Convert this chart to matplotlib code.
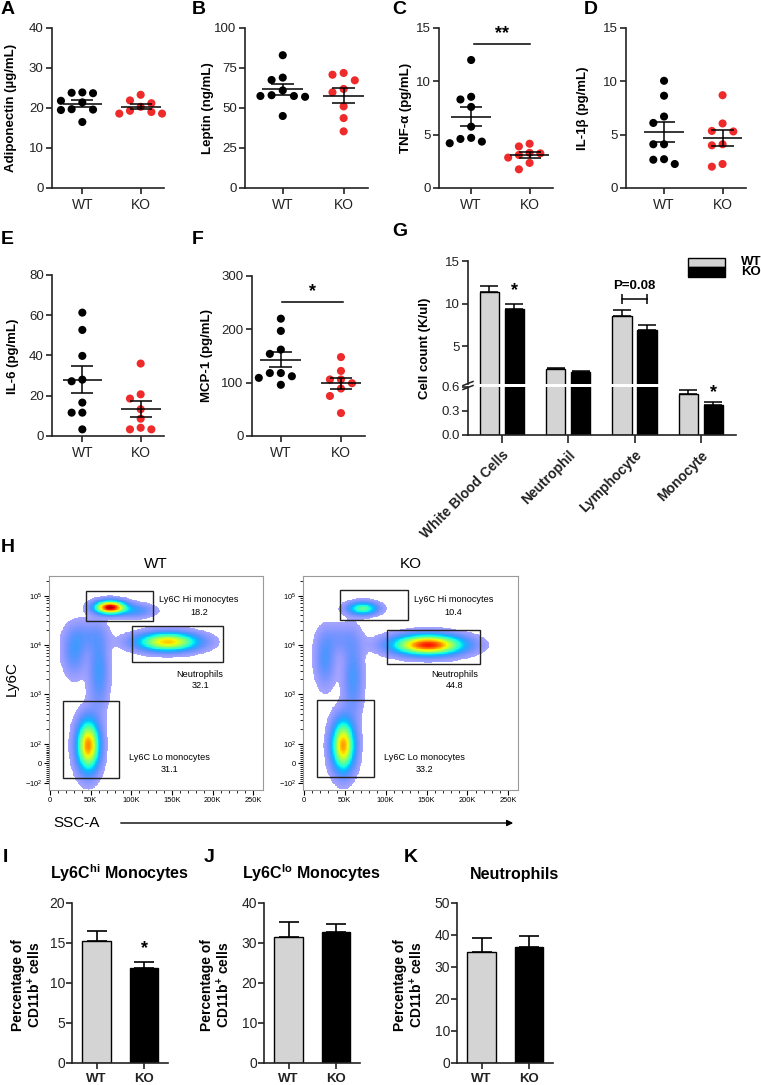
import numpy as np
import matplotlib
matplotlib.use('Agg')
import matplotlib.pyplot as plt
from matplotlib.patches import Rectangle
from matplotlib.colors import ListedColormap

plt.rcParams['font.family'] = ['Liberation Sans', 'DejaVu Sans']
plt.rcParams['mathtext.fontset'] = 'custom'
plt.rcParams['mathtext.rm'] = 'Liberation Sans'
plt.rcParams['mathtext.it'] = 'Liberation Sans:italic'
plt.rcParams['mathtext.bf'] = 'Liberation Sans:bold'

# ---------------- data ----------------
groups = ['WT', 'KO']

adiponectin_wt = [23.8, 23.7, 23.9, 21.8, 21.4, 19.7, 19.6, 19.5, 16.5]
adiponectin_ko = [23.3, 21.9, 21.2, 20.3, 19.3, 19.0, 18.6, 18.6]
leptin_wt = [83, 69, 67.5, 61, 58, 57.5, 57.5, 57, 45]
leptin_ko = [71.9, 70.8, 67.3, 61.9, 59.8, 51, 43.7, 35.4]
tnfa_wt = [12.0, 8.55, 8.3, 7.6, 5.75, 4.7, 4.6, 4.2, 4.35]
tnfa_ko = [4.15, 3.9, 3.3, 3.25, 3.1, 2.85, 2.35, 1.75]
il1b_wt = [10.05, 8.65, 6.7, 6.1, 4.1, 4.1, 2.7, 2.65, 2.25]
il1b_ko = [8.7, 6.05, 5.3, 5.35, 4.0, 4.1, 2.25, 2.0]
il6_wt = [61.3, 52.7, 39.8, 27.2, 28.0, 16.6, 11.6, 11.6, 3.3]
il6_ko = [36.0, 20.7, 18.6, 13.3, 8.6, 4.1, 3.3, 3.3]
mcp1_wt = [220, 197, 154, 162, 118, 118, 112, 109, 96]
mcp1_ko = [148, 122, 106, 106, 99, 89, 75, 43]

cbc_cells = ['White Blood Cells', 'Neutrophil', 'Lymphocyte', 'Monocyte']
cbc_wt = [11.35, 2.35, 8.55, 0.51]
cbc_wt_err = [0.7, 0.15, 0.7, 0.05]
cbc_ko = [9.4, 2.05, 6.9, 0.375]
cbc_ko_err = [0.6, 0.12, 0.6, 0.04]

# flow populations: SSC-A (K), Ly6C, sd SSC (K), sd (decades), peak density
flow_pops_wt = [(74, 5.8e4, 12, 0.085, 1.0), (104, 5.0e4, 15, 0.09, 0.16),
                (145, 1.15e4, 24, 0.12, 0.7), (47, 90, 9, 0.33, 0.78),
                (60, 3e3, 8, 0.5, 0.16), (30, 7e3, 9, 0.3, 0.14),
                (45, 1.5e4, 15, 0.2, 0.09)]
flow_pops_ko = [(72, 5.5e4, 12, 0.085, 0.42), (152, 1.0e4, 27, 0.13, 0.92),
                (48, 90, 9, 0.33, 0.75), (60, 2.2e3, 8, 0.5, 0.15),
                (26, 5e3, 8, 0.35, 0.14), (45, 1.3e4, 15, 0.2, 0.08)]
# gates: SSC from, SSC to, Ly6C from, Ly6C to
gates_wt = [(44, 127, 3.0e4, 1.26e5), (101, 213, 4.6e3, 2.4e4), (16, 85, -74, 7.2e2)]
gates_ko = [(44, 127, 3.2e4, 1.3e5), (102, 215, 4.2e3, 2.0e4), (16, 86, -70, 7.6e2)]
gate_names = ['Ly6C Hi monocytes', 'Neutrophils', 'Ly6C Lo monocytes']
gate_pct_wt = ['18.2', '32.1', '31.1']
gate_pct_ko = ['10.4', '44.8', '33.2']

ly6chi_mean = [15.2, 11.9]
ly6chi_err = [1.3, 0.7]
ly6clo_mean = [31.4, 32.8]
ly6clo_err = [3.9, 2.0]
neutro_mean = [34.7, 36.3]
neutro_err = [4.3, 3.5]

# ---------------- layout helpers ----------------
W, H = 761, 1085
fig = plt.figure(figsize=(W / 100, H / 100), dpi=100)


def px_axes(left, top, right, bottom):
    return fig.add_axes([left / W, 1 - bottom / H, (right - left) / W, (bottom - top) / H])


def swarm(vals, y_ppu, x_ppu, step=11.0, dmin=8.5):
    vals = np.asarray(vals, float)
    order = np.argsort(-vals)
    placed = []
    offs = np.zeros(len(vals))
    for i in order:
        yp = vals[i] * y_ppu
        xp = 0
        for k in (0, -1, 1, -2, 2, -3, 3, -4, 4):
            xp = k * step
            if all(np.hypot(xp - a, yp - b) >= dmin for a, b in placed):
                break
        placed.append((xp, yp))
        offs[i] = xp / x_ppu
    return offs


def style_axes(ax, lw=1.2):
    for s in ['top', 'right']:
        ax.spines[s].set_visible(False)
    for s in ['left', 'bottom']:
        ax.spines[s].set_linewidth(lw)
        ax.spines[s].set_color('#222222')
    ax.tick_params(direction='out', length=4, width=lw, colors='#222222')


def dot_panel(ax, wt, ko, ymax, ystep, xleft):
    style_axes(ax)
    ax.set_xlim(xleft, 1.4)
    ax.set_ylim(0, ymax)
    ax.set_yticks(np.arange(0, ymax + 0.1, ystep))
    ax.set_xticks([0, 1])
    ax.set_xticklabels(groups, fontsize=10)
    ax.tick_params(axis='y', labelsize=9.5, pad=2)
    ax.tick_params(axis='x', pad=3)
    y_ppu = 160 / ymax
    for pos, vals, col in [(0, wt, 'black'), (1, ko, '#ee2a2a')]:
        vals = np.asarray(vals, float)
        ax.scatter(pos + swarm(vals, y_ppu, 60), vals, s=34, color=col,
                   edgecolors='none', zorder=3, clip_on=False)
        m = vals.mean()
        sem = vals.std(ddof=1) / np.sqrt(len(vals))
        ax.hlines(m, pos - 0.34, pos + 0.34, color='k', lw=1.1, zorder=4)
        ax.vlines(pos, m - sem, m + sem, color='k', lw=1.1, zorder=4)
        ax.hlines([m - sem, m + sem], pos - 0.19, pos + 0.19, color='k', lw=1.1, zorder=4)


# ---------------- panels A-F ----------------
axA = px_axes(52, 28, 52 + 112, 188)
dot_panel(axA, adiponectin_wt, adiponectin_ko, 40, 10, -0.52)
axB = px_axes(245, 28, 245 + 123, 188)
dot_panel(axB, leptin_wt, leptin_ko, 100, 25, -0.62)
axC = px_axes(439, 28, 439 + 114, 188)
dot_panel(axC, tnfa_wt, tnfa_ko, 15, 5, -0.55)
axC.plot([0.05, 1.0], [13.5, 13.5], color='k', lw=1.1)
axC.text(0.52, 13.65, '**', ha='center', va='bottom', fontsize=13, fontweight='bold')
axD = px_axes(626, 28, 626 + 120, 188)
dot_panel(axD, il1b_wt, il1b_ko, 15, 5, -0.65)
axE = px_axes(52, 275, 52 + 112, 436)
dot_panel(axE, il6_wt, il6_ko, 80, 20, -0.52)
axF = px_axes(252, 276, 252 + 113, 436)
dot_panel(axF, mcp1_wt, mcp1_ko, 300, 100, -0.48)
axF.plot([0.02, 1.03], [251, 251], color='k', lw=1.1)
axF.text(0.52, 254, '*', ha='center', va='bottom', fontsize=13, fontweight='bold')

# ---------------- panel G ----------------
gx = np.arange(len(cbc_cells))
off, bw = 0.19, 0.29
axGu = px_axes(468, 261, 736, 384)
axGl = px_axes(468, 387, 736, 435)
for ax, idx in ((axGu, [0, 1, 2]), (axGl, [0, 1, 2, 3])):
    style_axes(ax)
    ax.set_xlim(-0.51, 3.53)
    ax.bar(gx - off, cbc_wt, bw, color='#d4d4d4', edgecolor='k', lw=1)
    ax.bar(gx + off, cbc_ko, bw, color='black', edgecolor='k', lw=1)
    for xs, vals, errs in ((gx - off, cbc_wt, cbc_wt_err), (gx + off, cbc_ko, cbc_ko_err)):
        xs = np.asarray(xs)[idx]
        v = np.asarray(vals)[idx]
        e = np.asarray(errs)[idx]
        ax.errorbar(xs, v, yerr=[np.zeros(len(idx)), e], fmt='none',
                    ecolor='k', elinewidth=1.1, capsize=6.5, capthick=1.1)
    ax.tick_params(axis='y', labelsize=9.5, pad=2)
axGu.spines['bottom'].set_visible(False)
axGu.set_ylim(0.6, 15)
axGu.set_yticks([5, 10, 15])
axGu.set_xticks([])
axGl.set_ylim(0, 0.6)
axGl.set_yticks([0, 0.3, 0.6])
axGl.set_yticklabels(['0.0', '0.3', '0.6'])
axGl.set_xticks(gx)
axGl.set_xticklabels(cbc_cells, rotation=45, ha='right', rotation_mode='anchor',
                     fontsize=10, fontweight='bold')
axGl.tick_params(axis='x', length=6)
axGu.text(0 + off, 10.55, '*', ha='center', va='bottom', fontsize=13, fontweight='bold')
axGl.text(3 + off, 0.43, '*', ha='center', va='bottom', fontsize=13, fontweight='bold')
axGu.plot([2 - off, 2 + off], [10.55, 10.55], color='k', lw=1.1)
axGu.vlines([2 - off, 2 + off], 9.97, 11.1, color='k', lw=1.1)
axGu.text(2, 11.4, 'P=0.08', ha='center', va='bottom', fontsize=9.5, fontweight='bold')

# ---------------- panel H (flow) ----------------
jet = plt.get_cmap('jet')
_v = np.linspace(0, 1, 256)
_c = jet(0.11 + 0.84 * _v)
_c[:, 3] = 0.3 + 0.7 * np.clip(_v / 0.25, 0, 1)
flow_cmap = ListedColormap(_c)


def flow_panel(ax, pops, gates, pcts, title):
    ax.set_yscale('symlog', linthresh=100, linscale=0.36)
    ax.set_xlim(-1.2, 262)
    ax.set_ylim(-138, 2.5e5)
    tr = ax.yaxis.get_transform()
    t_lo, t_hi = np.ravel(tr.transform(np.array([-138.0, 2.5e5]))) / 100
    xe = np.linspace(-1.2, 262, 301)
    te = np.linspace(t_lo, t_hi, 301)
    xc = (xe[:-1] + xe[1:]) / 2
    tc = (te[:-1] + te[1:]) / 2
    X, T = np.meshgrid(xc, tc)
    D = np.zeros_like(X)
    for cx, cy, sx, st, peak in pops:
        ct = np.ravel(tr.transform(np.array([float(cy)])))[0] / 100
        D += peak * np.exp(-0.5 * (((X - cx) / sx) ** 2 + ((T - ct) / st) ** 2))
    ye = np.ravel(tr.inverted().transform(te * 100))
    D = np.ma.masked_less(np.clip(D, 0, 1), 0.02)
    ax.pcolormesh(xe, ye, D, cmap=flow_cmap, vmin=0, vmax=1, shading='flat', rasterized=True)
    for x0, x1, y0, y1 in gates:
        ax.add_patch(Rectangle((x0, y0), x1 - x0, y1 - y0, fill=False, ec='#222222', lw=1.0))
    for s in ax.spines.values():
        s.set_color('#9a9a9a')
        s.set_linewidth(0.8)
    ax.set_yticks([-100, 0, 100, 1e3, 1e4, 1e5])
    ax.set_yticklabels([r'$-10^2$', '0', r'$10^2$', r'$10^3$', r'$10^4$', r'$10^5$'])
    minor = [s * 10 ** d for d in (2, 3, 4) for s in range(2, 10)] + [2e5]
    minor += [v for v in range(-90, 100, 10) if v != 0]
    ax.set_yticks(minor, minor=True)
    ax.set_xticks([0, 50, 100, 150, 200, 250])
    ax.set_xticklabels(['0', '50K', '100K', '150K', '200K', '250K'])
    ax.set_xticks(np.arange(10, 260, 10), minor=True)
    ax.tick_params(which='major', direction='out', length=3.5, width=0.8, labelsize=5.4, pad=1.5)
    ax.tick_params(which='minor', direction='out', length=2, width=0.6)
    txt_pos = [(0.70, 0.888, 0.83), (0.706, 0.542, 0.486), (0.565, 0.154, 0.098)]
    for (xf, y1, y2), name, pct in zip(txt_pos, gate_names, pcts):
        ax.text(xf, y1, name, transform=ax.transAxes, ha='center', va='center', fontsize=6.6)
        ax.text(xf, y2, pct, transform=ax.transAxes, ha='center', va='center', fontsize=6.6)
    ax.set_title(title, fontsize=11, pad=6)


axHw = px_axes(49, 576, 263, 790)
flow_panel(axHw, flow_pops_wt, gates_wt, gate_pct_wt, 'WT')
axHk = px_axes(303, 576, 518, 790)
flow_panel(axHk, flow_pops_ko, gates_ko, gate_pct_ko, 'KO')

# ---------------- panels I-K ----------------
narrow = ['Liberation Sans Narrow', 'Liberation Sans']


def bar_panel(ax, means, errs, ymax, ystep, title):
    style_axes(ax, lw=1.2)
    ax.set_xlim(-0.52, 1.5)
    ax.set_ylim(0, ymax)
    ax.bar([0, 1], means, 0.6, color=['#d4d4d4', 'black'], edgecolor='k', lw=1)
    ax.errorbar([0, 1], means, yerr=[[0, 0], errs], fmt='none', ecolor='k',
                elinewidth=1.2, capsize=7.5, capthick=1.2)
    ax.set_yticks(np.arange(0, ymax + 0.1, ystep))
    ax.set_xticks([0, 1])
    ax.set_xticklabels(groups, fontsize=9.5, fontweight='bold')
    for lbl in ax.get_yticklabels():
        lbl.set_family(narrow)
        lbl.set_fontsize(10)
    ax.tick_params(axis='y', pad=1)
    ax.set_title(title, fontsize=11.5, fontweight='bold', pad=17)


axI = px_axes(72, 903, 168, 1063)
bar_panel(axI, ly6chi_mean, ly6chi_err, 20, 5, r'Ly6C$^{\mathbf{hi}}$ Monocytes')
axI.text(1, 13.3, '*', ha='center', va='bottom', fontsize=13, fontweight='bold')
axJ = px_axes(264, 903, 360, 1063)
bar_panel(axJ, ly6clo_mean, ly6clo_err, 40, 10, r'Ly6C$^{\mathbf{lo}}$ Monocytes')
axK = px_axes(457, 903, 553, 1063)
bar_panel(axK, neutro_mean, neutro_err, 50, 10, 'Neutrophils')
axK.title.set_x(0.6)

# ---------------- overlay text ----------------
ov = fig.add_axes([0, 0, 1, 1])
ov.set_xlim(0, W)
ov.set_ylim(H, 0)
ov.axis('off')

letters = [('A', 1, 10), ('B', 192, 10), ('C', 392, 10), ('D', 584, 10),
           ('E', 1, 240), ('F', 192, 240), ('G', 392, 231), ('H', 1, 547),
           ('I', 3, 858), ('J', 204, 858), ('K', 404, 858)]
for t, x, y in letters:
    ov.text(x, y, t, fontsize=14, fontweight='bold', ha='left', va='center')

ylabels = [('Adiponectin (µg/mL)', 11, 108), ('Leptin (ng/mL)', 208, 108),
           ('TNF-α (pg/mL)', 406, 108), ('IL-1β (pg/mL)', 583, 108),
           ('IL-6 (pg/mL)', 13, 356), ('MCP-1 (pg/mL)', 207, 356),
           ('Cell count (K/ul)', 425, 348)]
for t, x, y in ylabels:
    ov.text(x, y, t, rotation=90, fontsize=9.5, fontweight='bold', ha='center', va='center')

for x in (27, 216, 409):
    ov.text(x, 985, 'Percentage of\nCD11b$^{\\mathbf{+}}$ cells', rotation=90, fontsize=10,
            fontweight='bold', ha='center', va='center', linespacing=1.05)

# axis break marks on G
for dy in (-2, 2):
    ov.plot([463, 473], [385.5 + dy + 2, 385.5 + dy - 2], color='#222222', lw=1.1)

# G legend
ov.add_patch(Rectangle((688, 258), 37, 9, facecolor='#d4d4d4', edgecolor='k', lw=1))
ov.add_patch(Rectangle((688, 267), 37, 10, facecolor='black', edgecolor='k', lw=1))
ov.text(741, 262, 'WT', fontsize=9.5, fontweight='bold', va='center', ha='left')
ov.text(741, 272, 'KO', fontsize=9.5, fontweight='bold', va='center', ha='left')

# H axis labels
ov.text(12, 678, 'Ly6C', rotation=90, fontsize=11, ha='center', va='center')
ov.text(77, 823, 'SSC-A', fontsize=11, ha='center', va='center')
ov.annotate('', xy=(516, 823), xytext=(118, 823),
            arrowprops=dict(arrowstyle='-|>', lw=1.0, color='k', mutation_scale=9))

fig.savefig('out.png', dpi=100)
